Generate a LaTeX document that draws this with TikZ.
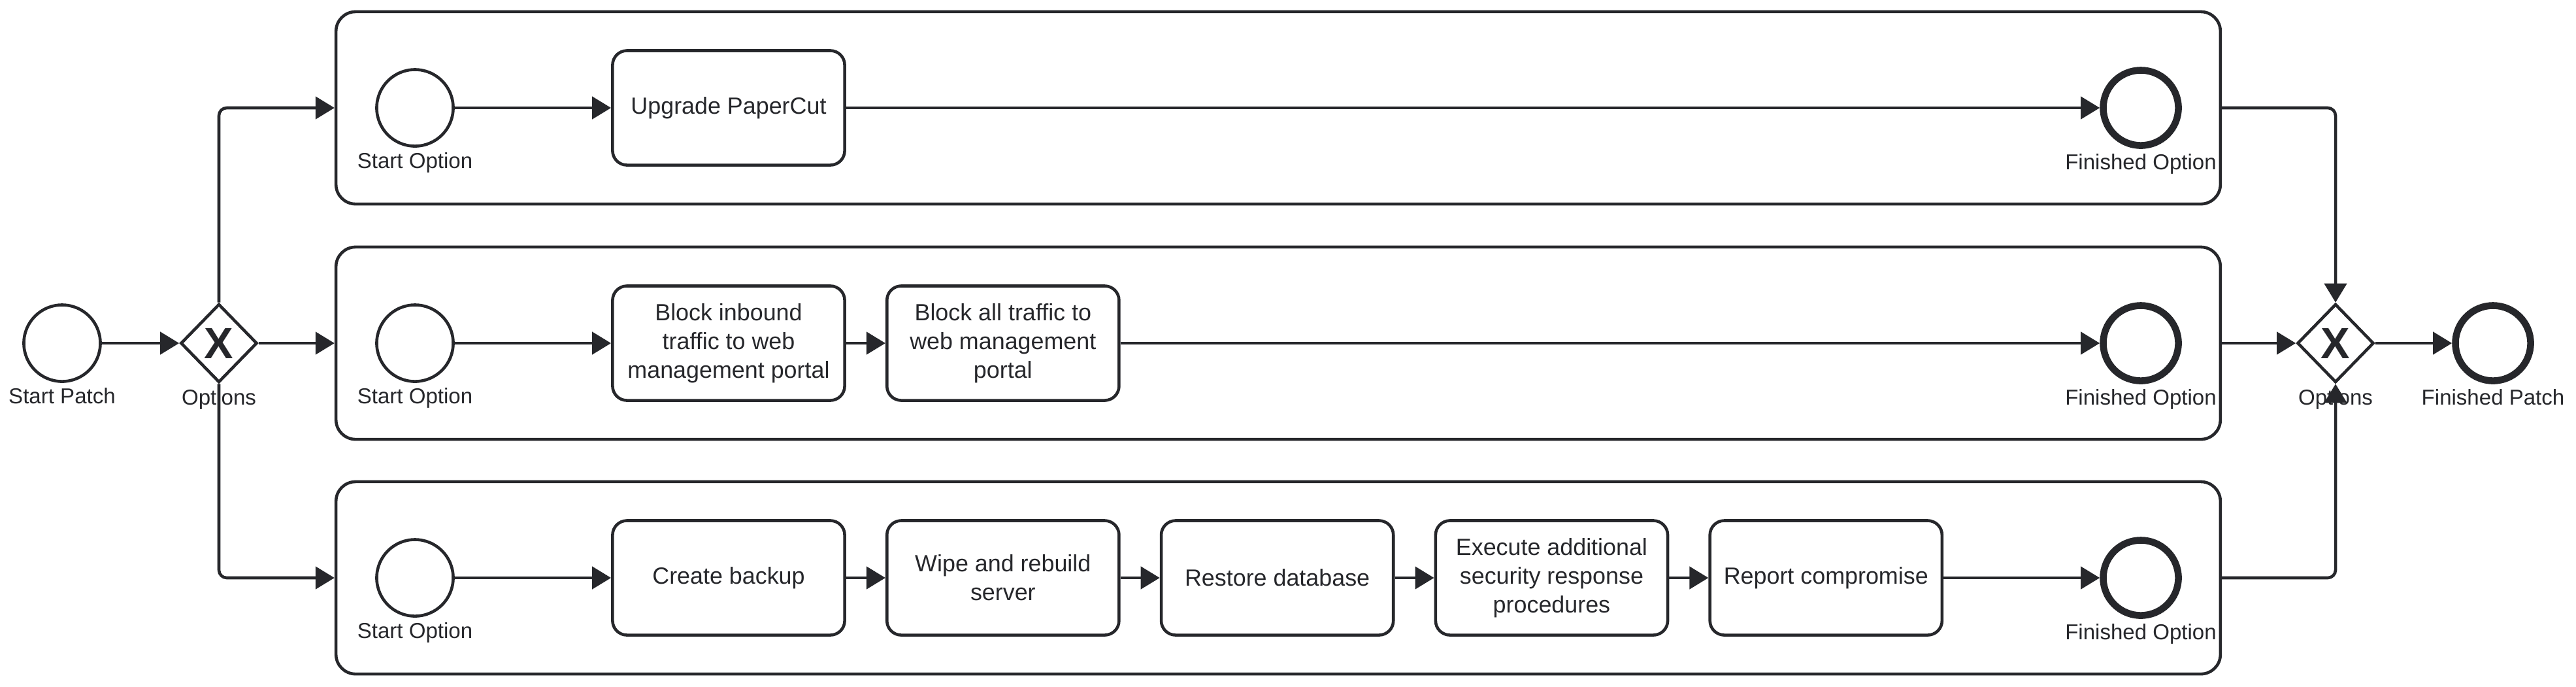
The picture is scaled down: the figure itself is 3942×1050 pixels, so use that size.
\documentclass[tikz,border=0pt]{standalone}
\usepackage{fontspec}
\setmainfont{Liberation Sans}
\usetikzlibrary{positioning,shapes.geometric,arrows.meta}
\definecolor{ink}{HTML}{26272B}
\tikzstyle{event}=[draw=ink,circle,line width=1.3pt,minimum size=1.17cm,inner sep=0pt]
\tikzstyle{endevent}=[event,line width=3pt,minimum size=1.15cm]
\tikzstyle{gateway}=[draw=ink,diamond,line width=1.3pt,minimum width=1.17cm,minimum height=1.2cm,inner sep=0pt,text=ink,font=\fontsize{19}{19}\selectfont\bfseries]
\tikzstyle{task}=[draw=ink,rectangle,rounded corners=0.22cm,line width=1.3pt,minimum width=3.55cm,minimum height=1.75cm,align=center,text=ink,font=\fontsize{10.2}{12.5}\selectfont]
\tikzstyle{pool}=[draw=ink,rectangle,rounded corners=0.3cm,line width=1.3pt,minimum width=28.82cm,minimum height=2.94cm]
\tikzstyle{lbl}=[text=ink,inner sep=1pt,font=\fontsize{9.4}{11}\selectfont]
\tikzstyle{flow}=[draw=ink,line width=1.3pt,-{Triangle[length=0.29cm,width=0.34cm]}]

\begin{document}
\begin{tikzpicture}[x=0.01cm,y=-0.01cm]
  \useasboundingbox (0,0) rectangle (3942,1050);
  % the three option pools
  \node[pool] (poolA) at (1956,165) {};
  \node[pool] (poolB) at (1956,525) {};
  \node[pool] (poolC) at (1956,884) {};
  % start and split
  \node[event] (startPatch) at (95,525) {};
  \node[lbl,below=1pt of startPatch] (startPatchL) {Start Patch};
  \node[gateway] (split) at (335,525) {X};
  \node[lbl,below=1pt of split] (splitL) {Options};
  % option 1
  \node[event] (startA) at (635,165) {};
  \node[lbl,below=1pt of startA] (startAL) {Start Option};
  \node[task] (upgrade) at (1115,165) {Upgrade PaperCut};
  \node[endevent] (endA) at (3276,165) {};
  \node[lbl,below=1pt of endA] (endAL) {Finished Option};
  % option 2
  \node[event] (startB) at (635,525) {};
  \node[lbl,below=1pt of startB] (startBL) {Start Option};
  \node[task] (blockIn) at (1115,525) {Block inbound\\traffic to web\\management portal};
  \node[task,right=0.6cm of blockIn] (blockAll) {Block all traffic to\\web management\\portal};
  \node[endevent] (endB) at (3276,525) {};
  \node[lbl,below=1pt of endB] (endBL) {Finished Option};
  % option 3
  \node[event] (startC) at (635,884) {};
  \node[lbl,below=1pt of startC] (startCL) {Start Option};
  \node[task] (backup) at (1115,884) {Create backup};
  \node[task,right=0.6cm of backup] (rebuild) {Wipe and rebuild\\server};
  \node[task,right=0.6cm of rebuild] (restore) {Restore database};
  \node[task,right=0.6cm of restore] (secResp) {Execute additional\\security response\\procedures};
  \node[task,right=0.6cm of secResp] (report) {Report compromise};
  \node[endevent] (endC) at (3276,884) {};
  \node[lbl,below=1pt of endC] (endCL) {Finished Option};
  % join and end
  \node[gateway] (join) at (3574,525) {X};
  \node[lbl,below=1pt of join] (joinL) {Options};
  \node[endevent] (endPatch) at (3815,525) {};
  \node[lbl,below=1pt of endPatch] (endPatchL) {Finished Patch};

  % flows
  \draw[flow] (startPatch) -- (split);
  \draw[flow,rounded corners=0.12cm] (split.north) |- (poolA.west);
  \draw[flow] (split) -- (poolB);
  \draw[flow,rounded corners=0.12cm] (split.south) |- (poolC.west);
  \draw[flow] (startA) -- (upgrade);
  \draw[flow] (upgrade) -- (endA);
  \draw[flow] (startB) -- (blockIn);
  \draw[flow] (blockIn) -- (blockAll);
  \draw[flow] (blockAll) -- (endB);
  \draw[flow] (startC) -- (backup);
  \draw[flow] (backup) -- (rebuild);
  \draw[flow] (rebuild) -- (restore);
  \draw[flow] (restore) -- (secResp);
  \draw[flow] (secResp) -- (report);
  \draw[flow] (report) -- (endC);
  \draw[flow,rounded corners=0.12cm] (poolA.east) -| (join.north);
  \draw[flow] (poolB) -- (join);
  \draw[flow,rounded corners=0.12cm] (poolC.east) -| (join.south);
  \draw[flow] (join) -- (endPatch);
\end{tikzpicture}
\end{document}
